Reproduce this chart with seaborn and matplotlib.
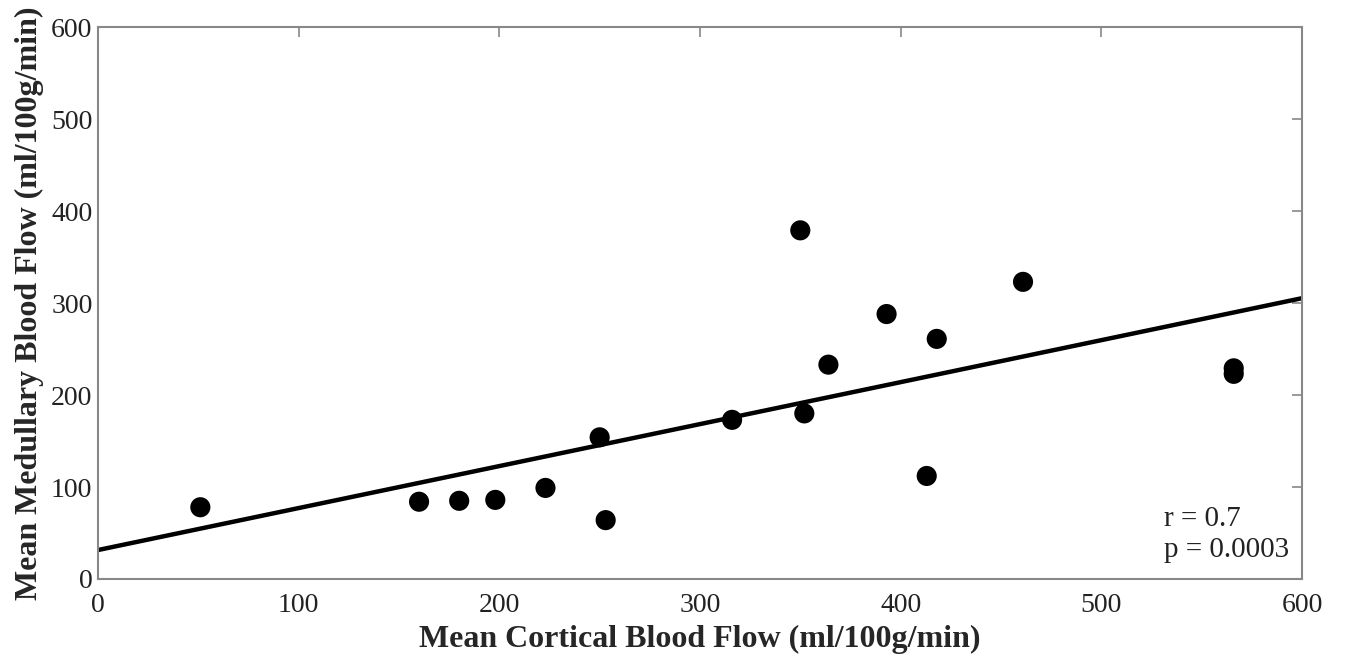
import numpy as np
import pandas as pd
import seaborn as sns
import matplotlib
matplotlib.use("Agg")
import matplotlib.pyplot as plt

cortical = [51, 160, 180, 198, 223, 250, 253, 316, 350, 352, 364, 393, 413, 418, 461, 566, 566]
medullary = [78, 84, 85, 86, 99, 154, 64, 173, 379, 180, 233, 288, 112, 261, 323, 229, 223]
ticks = [0, 100, 200, 300, 400, 500, 600]
stats_text = "r = 0.7\np = 0.0003"

df = pd.DataFrame({"cortical": cortical, "medullary": medullary})

sns.set_theme(style="white")
plt.rcParams['font.family'] = ['Liberation Serif', 'DejaVu Serif']

fig = plt.figure(figsize=(13.5, 6.59), dpi=100)
ax = fig.add_axes([0.0726, 0.1214, 0.8918, 0.8376])
ax.set_xlim(0, 600)
ax.set_ylim(0, 600)

sns.regplot(data=df, x="cortical", y="medullary", ax=ax, ci=None, truncate=False,
            scatter_kws=dict(s=210, color="black", edgecolor="none", alpha=1),
            line_kws=dict(color="black", lw=3.2))
ax.set_xlim(0, 600)
ax.set_ylim(0, 600)
ax.set_xticks(ticks)
ax.set_yticks(ticks)
ax.tick_params(direction="in", length=7, width=1.2, color="#888888",
               labelsize=20, pad=4, top=True, right=True, labelcolor="#222222")
ax.tick_params(axis="x", pad=10)
for s in ax.spines.values():
    s.set_color("#888888")
    s.set_linewidth(1.5)
ax.set_xlabel("Mean Cortical Blood Flow (ml/100g/min)", fontsize=23, fontweight="bold", labelpad=5)
ax.set_ylabel("Mean Medullary Blood Flow (ml/100g/min)", fontsize=23, fontweight="bold", labelpad=5)
ax.text(531.5, 24, stats_text, fontsize=21, color="#222222", va="baseline", ha="left", linespacing=1.25)

fig.savefig("out.png", dpi=100)
